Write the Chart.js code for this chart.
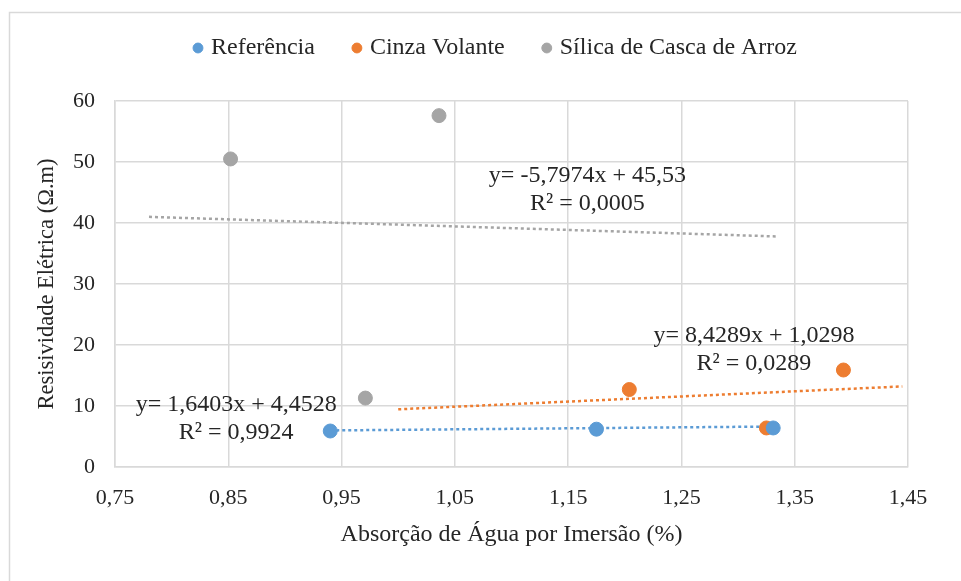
<!DOCTYPE html>
<html>
<head>
<meta charset="utf-8">
<script src="https://cdn.jsdelivr.net/npm/chart.js@4"></script>
<style>
  html, body { margin: 0; padding: 0; background: #fff; }
  #wrap { width: 961px; height: 581px; position: relative; }
</style>
</head>
<body>
<div id="wrap"><canvas id="chart" width="961" height="581"></canvas></div>
<script>
// Valores
const seriesNames = ['Referência', 'Cinza Volante', 'Sílica de Casca de Arroz'];
const seriesColors = ['#5B9BD5', '#ED7D31', '#A5A5A5'];

const refX = [0.94, 1.175, 1.331];
const refY = [5.9, 6.2, 6.4];
const cinzaX = [1.204, 1.393, 1.325];
const cinzaY = [12.7, 15.9, 6.4];
const silicaX = [0.852, 1.036, 0.971];
const silicaY = [50.5, 57.6, 11.3];

// Linhas de tendência (equações mostradas no gráfico)
const trendSlope = [1.6403, 8.4289, -5.7974];
const trendIntercept = [4.4528, 1.0298, 45.53];
const trendStart = [0.94, 1.0, 0.78];
const trendEnd = [1.33, 1.445, 1.335];
const trendText = [
    ['y= 1,6403x + 4,4528', 'R² = 0,9924'],
    ['y= 8,4289x + 1,0298', 'R² = 0,0289'],
    ['y= -5,7974x + 45,53', 'R² = 0,0005']
];
const trendLabelX = [0.857, 1.314, 1.167];
const trendLabelY = [10.2, 21.6, 47.8];

const xTicks = [0.75, 0.85, 0.95, 1.05, 1.15, 1.25, 1.35, 1.45];
const yTicks = [0, 10, 20, 30, 40, 50, 60];

const FONT = "'Liberation Serif', 'Times New Roman', serif";
const TEXT = '#262626';

function toPoints(xs, ys) {
    return xs.map((x, i) => ({ x: x, y: ys[i] }));
}

const scatterSets = [[refX, refY], [cinzaX, cinzaY], [silicaX, silicaY]].map((s, i) => ({
    label: seriesNames[i],
    data: toPoints(s[0], s[1]),
    backgroundColor: seriesColors[i],
    borderColor: seriesColors[i],
    pointRadius: 7,
    pointHoverRadius: 7,
    showLine: false,
    order: 1
}));

const trendSets = trendSlope.map((m, i) => ({
    label: 'trend' + i,
    data: [
        { x: trendStart[i], y: m * trendStart[i] + trendIntercept[i] },
        { x: trendEnd[i], y: m * trendEnd[i] + trendIntercept[i] }
    ],
    borderColor: seriesColors[i],
    borderWidth: 2.5,
    borderDash: [3, 3],
    pointRadius: 0,
    showLine: true,
    fill: false,
    order: 2
}));

// Moldura externa, altura/posição da legenda e textos das equações
const extras = {
    id: 'extras',
    beforeInit(chart) {
        const fit = chart.legend.fit;
        chart.legend.fit = function () {
            fit.bind(chart.legend)();
            this.height = 106;
        };
    },
    afterLayout(chart) {
        chart.legend.left += 43;
        chart.legend.right += 43;
    },
    beforeDraw(chart) {
        const c = chart.ctx;
        c.save();
        c.strokeStyle = '#d9d9d9';
        c.lineWidth = 1.5;
        c.strokeRect(9.5, 12.5, 1000, 1000);
        c.restore();
    },
    afterDatasetsDraw(chart) {
        const c = chart.ctx;
        const xs = chart.scales.x, ys = chart.scales.y;
        c.save();
        c.font = '24px ' + FONT;
        c.fillStyle = TEXT;
        c.textAlign = 'center';
        c.textBaseline = 'middle';
        trendText.forEach((lines, i) => {
            const px = xs.getPixelForValue(trendLabelX[i]);
            const py = ys.getPixelForValue(trendLabelY[i]);
            lines.forEach((t, k) => c.fillText(t, px, py + k * 28));
        });
        c.restore();
    }
};

new Chart(document.getElementById('chart'), {
    type: 'scatter',
    data: { datasets: scatterSets.concat(trendSets) },
    options: {
        responsive: false,
        animation: false,
        layout: { padding: { left: 0, right: 53, top: -5, bottom: 32 } },
        plugins: {
            tooltip: { enabled: false },
            legend: {
                position: 'top',
                labels: {
                    filter: (item) => item.datasetIndex < 3,
                    usePointStyle: true,
                    pointStyle: 'circle',
                    boxWidth: 2,
                    boxHeight: 7,
                    padding: 41,
                    color: TEXT,
                    font: { family: FONT, size: 24 }
                }
            }
        },
        scales: {
            x: {
                type: 'linear',
                min: 0.75,
                max: 1.45,
                afterBuildTicks: (s) => { s.ticks = xTicks.map(v => ({ value: v })); },
                afterFit: (s) => { s.height = 82; },
                ticks: {
                    padding: 18,
                    color: TEXT,
                    font: { family: FONT, size: 22 },
                    callback: (v) => v.toFixed(2).replace('.', ',')
                },
                grid: { color: '#d9d9d9', lineWidth: 1.5, drawTicks: false },
                border: { color: '#d9d9d9', width: 1.5 },
                title: {
                    display: true,
                    text: 'Absorção de Água por Imersão (%)',
                    color: TEXT,
                    font: { family: FONT, size: 24 },
                    padding: { top: 4, bottom: 0 }
                }
            },
            y: {
                min: 0,
                max: 60,
                afterBuildTicks: (s) => { s.ticks = yTicks.map(v => ({ value: v })); },
                afterFit: (s) => { s.width = 115; },
                ticks: {
                    padding: 20,
                    color: TEXT,
                    font: { family: FONT, size: 22 }
                },
                grid: { color: '#d9d9d9', lineWidth: 1.5, drawTicks: false },
                border: { color: '#d9d9d9', width: 1.5 },
                title: {
                    display: true,
                    text: 'Resisividade Elétrica (Ω.m)',
                    color: TEXT,
                    font: { family: FONT, size: 22.5 },
                    padding: { top: 34, bottom: 0 }
                }
            }
        }
    },
    plugins: [extras]
});
</script>
</body>
</html>
